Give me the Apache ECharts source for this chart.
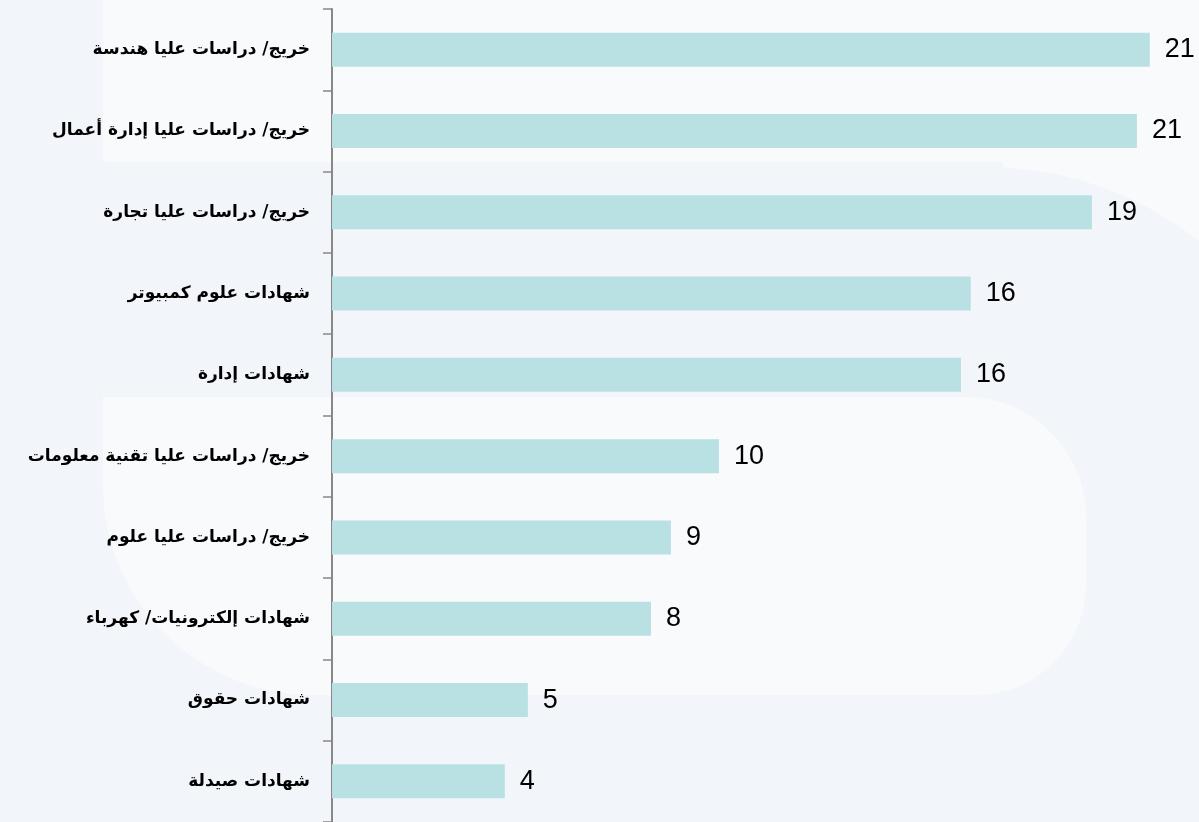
<!DOCTYPE html>
<html>
<head>
<meta charset="utf-8">
<script src="https://cdn.jsdelivr.net/npm/echarts@6/dist/echarts.min.js"></script>
<style>
  html, body { margin: 0; padding: 0; background: #f2f5fa; }
  #chart { width: 1199px; height: 822px; }
</style>
</head>
<body>
<div id="chart"></div>
<script>
// categories, top to bottom
const categories = [
  'خريج/ دراسات عليا هندسة',
  'خريج/ دراسات عليا إدارة أعمال',
  'خريج/ دراسات عليا تجارة',
  'شهادات علوم كمبيوتر',
  'شهادات إدارة',
  'خريج/ دراسات عليا تقنية معلومات',
  'خريج/ دراسات عليا علوم',
  'شهادات إلكترونيات/ كهرباء',
  'شهادات حقوق',
  'شهادات صيدلة'
]
// values (labels show them rounded)
const values = [20.92, 20.59, 19.44, 16.34, 16.09, 9.9, 8.67, 8.16, 5.01, 4.42]
const valueMax = 22

const chart = echarts.init(document.getElementById('chart'))

const option = {
  backgroundColor: '#f2f5fa',
  animation: false,
  // soft background shapes behind the chart
  graphic: [
    { type: 'rect', z: -10, silent: true, shape: { x: 103, y: -50, width: 1200, height: 212 }, style: { fill: '#f9fafc' } },
    { type: 'rect', z: -10, silent: true, shape: { x: 900, y: 150, width: 320, height: 120 }, style: { fill: '#f9fafc' } },
    { type: 'circle', z: -9, silent: true, shape: { cx: 986, cy: 510, r: 343 }, style: { fill: '#f2f5fa' } },
    { type: 'rect', z: -9, silent: true, shape: { x: 103, y: 162, width: 900, height: 236 }, style: { fill: '#f2f5fa' } },
    { type: 'rect', z: -8, silent: true, shape: { x: 103, y: 397, width: 983, height: 298, r: [0, 120, 110, 210] }, style: { fill: '#f9fafc' } }
  ],
  grid: {
    left: 332,
    right: 7,
    top: 9,
    bottom: -3
  },
  xAxis: {
    type: 'value',
    min: 0,
    max: valueMax,
    show: false
  },
  yAxis: {
    type: 'category',
    inverse: true,
    data: categories,
    axisLine: { show: true, lineStyle: { color: '#888888', width: 2 } },
    axisTick: { show: true, length: 9, lineStyle: { color: '#888888', width: 1.5 } },
    axisLabel: {
      margin: 22,
      color: '#000',
      fontSize: 17,
      fontWeight: 'bold',
      fontFamily: 'DejaVu Sans'
    }
  },
  series: [
    {
      type: 'bar',
      data: values,
      barWidth: 34,
      itemStyle: { color: '#b9e0e3' },
      label: {
        show: true,
        position: 'right',
        distance: 15,
        color: '#000',
        fontSize: 27,
        fontFamily: 'Liberation Sans',
        formatter: (p) => String(Math.round(p.value))
      }
    }
  ]
}

chart.setOption(option)
</script>
</body>
</html>
